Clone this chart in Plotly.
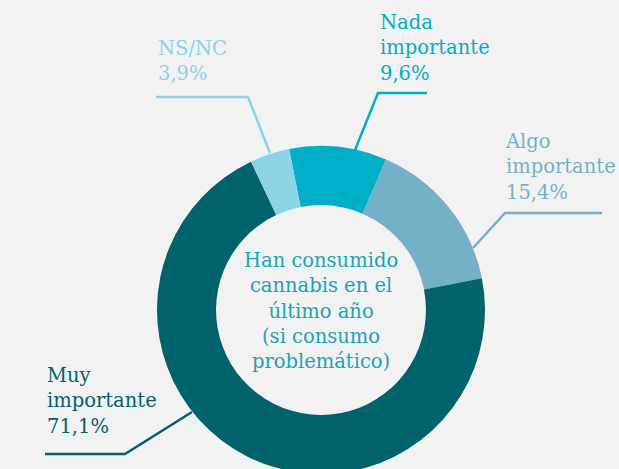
import plotly.graph_objects as go

W, H = 619, 474  # figure slightly taller than the 469px window so the ring is cut at the bottom like the reference

categories = ["Nada importante", "Algo importante", "Muy importante", "NS/NC"]
values = [9.6, 15.4, 71.1, 3.9]
value_labels = ["9,6%", "15,4%", "71,1%", "3,9%"]
colors = ["#00AEC7", "#74B1C9", "#00626A", "#8CD3E7"]
center_text = "Han consumido<br>cannabis en el<br>último año<br>(si consumo<br>problemático)"

FONT = "DejaVu Serif"
BG = "#F2F2F2"

def px(x):
    return x / W

def py(y):
    return 1 - y / H

fig = go.Figure()
fig.add_trace(go.Pie(
    labels=categories,
    values=values,
    marker=dict(colors=colors, line=dict(width=0)),
    hole=0.64,
    sort=False,
    direction="clockwise",
    rotation=-11.2,
    textinfo="none",
    hoverinfo="label+value",
    showlegend=False,
    domain=dict(x=[px(321 - 164), px(321 + 164)], y=[0, py(310 - 164)]),
))

# Label annotations: (category index, left x, middle y, label name)
label_specs = [
    (3, 156, 61, "NS/NC"),
    (0, 378, 48, "Nada<br>importante"),
    (1, 503, 167, "Algo<br>importante"),
    (2, 45, 401, "Muy<br>importante"),
]
for idx, x, y, name in label_specs:
    fig.add_annotation(
        x=px(x), y=py(y), xref="paper", yref="paper",
        xanchor="left", yanchor="middle", align="left",
        text=f"{name}<br>{value_labels[idx]}",
        showarrow=False,
        font=dict(family=FONT, size=19.5, color=colors[idx]),
    )

# Leader lines
leaders = [
    (3, [(156, 97), (248, 97), (270, 153)]),
    (0, [(427, 93), (378, 93), (355, 150)]),
    (1, [(602, 213), (505, 213), (473, 248)]),
    (2, [(45, 454), (125, 454), (192, 412)]),
]
for idx, pts in leaders:
    path = "M " + " L ".join(f"{px(a)},{py(b)}" for a, b in pts)
    fig.add_shape(type="path", path=path, xref="paper", yref="paper",
                  line=dict(color=colors[idx], width=2.5))

fig.add_annotation(
    x=px(321), y=py(311), xref="paper", yref="paper",
    xanchor="center", yanchor="middle", align="center",
    text=center_text, showarrow=False,
    font=dict(family=FONT, size=19.5, color="#1AA3B5"),
)

fig.update_layout(
    width=W, height=H,
    margin=dict(l=0, r=0, t=0, b=0),
    paper_bgcolor=BG, plot_bgcolor=BG,
)

fig.write_html(
    "out.html",
    config={"displayModeBar": False},
    post_script="document.body.style.margin='0';document.body.style.overflow='hidden';document.body.style.background='#F2F2F2';",
)
